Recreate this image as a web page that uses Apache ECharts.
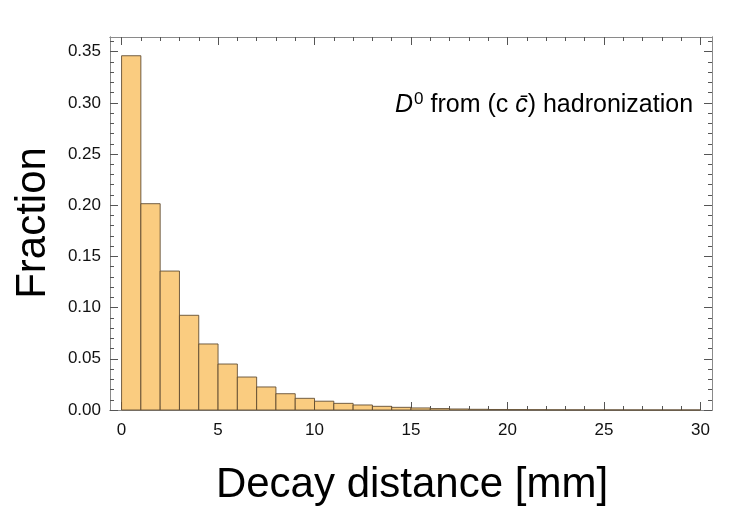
<!DOCTYPE html>
<html lang="en">
<head>
    <meta charset="UTF-8">
    <script type="text/javascript" src="https://cdn.jsdelivr.net/npm/echarts@6/dist/echarts.min.js"></script>
    <title>Decay distance</title>
    <style>
        html, body { margin: 0; padding: 0; background: #fff; }
        #main { width: 750px; height: 509px; }
    </style>
</head>
<body>
    <div id="main"></div>
</body>
</html>
<script>
    // histogram bins (left edge, mm) and fraction per bin
    var binStart = [0, 1, 2, 3, 4, 5, 6, 7, 8, 9, 10, 11, 12, 13, 14,
        15, 16, 17, 18, 19, 20, 21, 22, 23, 24, 25, 26, 27, 28, 29];
    var fraction = [0.346, 0.2015, 0.1357, 0.0925, 0.0645, 0.0449, 0.0322, 0.0225, 0.0159, 0.0114,
        0.0086, 0.0065, 0.0049, 0.0036, 0.0026, 0.0020, 0.0014, 0.0010, 0.0007, 0.0005,
        0.0004, 0.0003, 0.0002, 0.00015, 0.0001, 0.00008, 0.00006, 0.00004, 0.00003, 0.00002];
    var xMajor = [0, 5, 10, 15, 20, 25, 30];
    var xMinor = [0, 1, 2, 3, 4, 5, 6, 7, 8, 9, 10, 11, 12, 13, 14, 15,
        16, 17, 18, 19, 20, 21, 22, 23, 24, 25, 26, 27, 28, 29, 30];
    var yMajor = [0, 0.05, 0.10, 0.15, 0.20, 0.25, 0.30, 0.35];
    var yMinor = [0, 0.01, 0.02, 0.03, 0.04, 0.05, 0.06, 0.07, 0.08, 0.09, 0.10, 0.11, 0.12,
        0.13, 0.14, 0.15, 0.16, 0.17, 0.18, 0.19, 0.20, 0.21, 0.22, 0.23, 0.24, 0.25,
        0.26, 0.27, 0.28, 0.29, 0.30, 0.31, 0.32, 0.33, 0.34, 0.35, 0.36];

    var X_MIN = -0.6, X_MAX = 30.6, Y_MIN = 0, Y_MAX = 0.3643;
    var frameColor = '#8a8a8a';
    var fontName = '"Liberation Sans", Arial, Helvetica, sans-serif';

    function xAxisDef(pos, ticks, len, labels) {
        return {
            type: 'value', position: pos, min: X_MIN, max: X_MAX,
            axisLine: { show: true, onZero: false, lineStyle: { color: frameColor, width: 1 } },
            axisTick: { show: true, inside: true, length: len, customValues: ticks,
                lineStyle: { color: '#555', width: 1 } },
            axisLabel: labels ? {
                show: true, customValues: xMajor, margin: 12,
                fontSize: 17, color: '#111', fontFamily: fontName
            } : { show: false },
            splitLine: { show: false }
        };
    }
    function yAxisDef(pos, ticks, len, labels) {
        return {
            type: 'value', position: pos, min: Y_MIN, max: Y_MAX,
            axisLine: { show: true, onZero: false, lineStyle: { color: frameColor, width: 1 } },
            axisTick: { show: true, inside: true, length: len, customValues: ticks,
                lineStyle: { color: '#555', width: 1 } },
            axisLabel: labels ? {
                show: true, customValues: yMajor, margin: 9,
                fontSize: 17, color: '#111', fontFamily: fontName,
                formatter: function (v) { return v.toFixed(2); }
            } : { show: false },
            splitLine: { show: false }
        };
    }

    var myChart = echarts.init(document.getElementById('main'), null, { renderer: 'canvas' });
    myChart.setOption({
        animation: false,
        backgroundColor: '#fff',
        grid: { left: 110, right: 38, top: 37, bottom: 99 },
        xAxis: [
            xAxisDef('bottom', xMajor, 8, true),
            xAxisDef('bottom', xMinor, 4, false),
            xAxisDef('top', xMajor, 8, false),
            xAxisDef('top', xMinor, 4, false)
        ],
        yAxis: [
            yAxisDef('left', yMajor, 8, true),
            yAxisDef('left', yMinor, 4, false),
            yAxisDef('right', yMajor, 8, false),
            yAxisDef('right', yMinor, 4, false)
        ],
        series: [{
            type: 'custom',
            xAxisIndex: 0,
            yAxisIndex: 0,
            data: binStart.map(function (x, i) { return [x, fraction[i]]; }),
            renderItem: function (params, api) {
                var x0 = api.value(0);
                var p1 = api.coord([x0, api.value(1)]);
                var p2 = api.coord([x0 + 1, 0]);
                return {
                    type: 'rect',
                    shape: { x: p1[0], y: p1[1], width: p2[0] - p1[0], height: p2[1] - p1[1] },
                    style: { fill: '#FACC80', stroke: 'rgba(90,70,45,0.85)', lineWidth: 1 }
                };
            }
        }],
        graphic: [
            {
                type: 'text', left: 395, top: 91,
                style: {
                    text: '{it|D}{sup|0}{n| from (c }{it|c̄}{n|) hadronization}',
                    rich: {
                        it: { fontSize: 25, fontStyle: 'italic', fontFamily: fontName, fill: '#000' },
                        sup: { fontSize: 17, fontFamily: fontName, fill: '#000', verticalAlign: 'top', padding: [0, 0, 12, 1] },
                        n: { fontSize: 25, fontFamily: fontName, fill: '#000' }
                    }
                }
            },
            {
                type: 'text', x: 33, y: 223, rotation: Math.PI / 2,
                style: {
                    text: 'Fraction', fontSize: 42, fontFamily: fontName, fill: '#000',
                    align: 'center', verticalAlign: 'middle'
                }
            },
            {
                type: 'text', x: 412, y: 485,
                style: {
                    text: 'Decay distance [mm]', fontSize: 42, fontFamily: fontName, fill: '#000',
                    align: 'center', verticalAlign: 'middle'
                }
            }
        ]
    });
</script>
